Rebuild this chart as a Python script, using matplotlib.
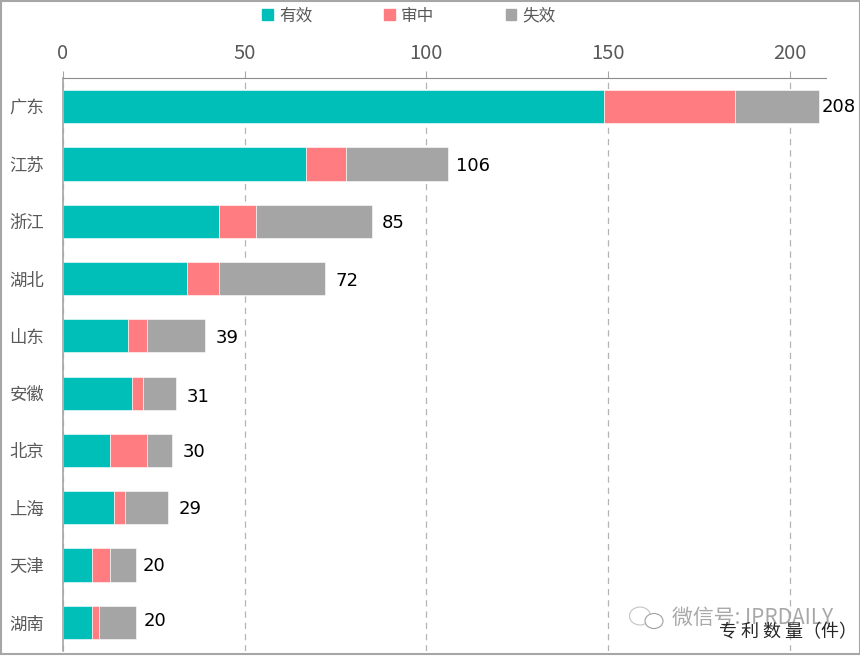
import matplotlib
matplotlib.use("Agg")
import matplotlib.pyplot as plt
from matplotlib.patches import Ellipse, Patch, Rectangle

plt.rcParams['font.family'] = ['Noto Sans CJK SC', 'DejaVu Sans']

# Data
provinces = ["广东", "江苏", "浙江", "湖北", "山东", "安徽", "北京", "上海", "天津", "湖南"]
valid = [149, 67, 43, 34, 18, 19, 13, 14, 8, 8]
pending = [36, 11, 10, 9, 5, 3, 10, 3, 5, 2]
lapsed = [23, 28, 32, 29, 16, 9, 7, 12, 7, 10]
totals = [208, 106, 85, 72, 39, 31, 30, 29, 20, 20]
x_ticks = [0, 50, 100, 150, 200]
series_names = ["有效", "审中", "失效"]

# label shift from the bar end, in points (x, y)
label_nudge = [(2, 0), (5.5, -1.5), (7, -1), (8, -1.5), (8, -1.5), (8, -2.5), (8, -1), (7.5, -1), (5, -1), (5.5, 1)]

TEAL = "#00BFB9"
PINK = "#FF7C80"
GREY = "#A5A5A5"
TEXT = "#595959"
W, H = 860, 656

fig = plt.figure(figsize=(W / 100, H / 100), dpi=100)

# pixel coordinates overlay for the frame and the watermark
bg = fig.add_axes([0, 0, 1, 1], zorder=3)
bg.set_xlim(0, W)
bg.set_ylim(H, 0)
bg.axis("off")
bg.patch.set_alpha(0)
bg.add_patch(Rectangle((0.5, 0.5), W - 1, H - 2.5, fill=False, edgecolor="#a6a6a6", lw=1.5))
bg.add_patch(Ellipse((640, 616), 21, 18, fill=False, edgecolor="#c4c4c4", lw=0.8))
bg.add_patch(Ellipse((654, 621), 18, 15, facecolor="white", edgecolor="#a0a0a0", lw=0.8))
bg.text(672, 618, "微信号: IPRDAILY", fontsize=15, color="#a8a8a8", va="center", ha="left")
bg.text(719, 632, "专 利 数 量（件）", fontsize=13, color="#262626", va="center", ha="left")

ax = fig.add_axes([63 / W, 1 - 651 / H, (826 - 63) / W, (651 - 78) / H])

y = list(range(len(provinces)))
left2 = [a for a in valid]
left3 = [a + b for a, b in zip(valid, pending)]
ax.barh(y, valid, height=0.58, color=TEAL, edgecolor="white", linewidth=0.4, zorder=2)
ax.barh(y, pending, left=left2, height=0.58, color=PINK, edgecolor="white", linewidth=0.4, zorder=2)
ax.barh(y, lapsed, left=left3, height=0.58, color=GREY, edgecolor="white", linewidth=0.4, zorder=2)

ax.set_xlim(0, 210)
ax.set_ylim(len(provinces) - 0.5, -0.5)
ax.xaxis.tick_top()
ax.set_xticks(x_ticks)
ax.set_yticks(y, provinces)
ax.tick_params(axis="x", length=5, width=0.8, color="#a6a6a6", labelcolor=TEXT, labelsize=14.5, pad=5)
ax.tick_params(axis="y", length=0, labelcolor=TEXT, labelsize=12.5, pad=13.5)
ax.grid(axis="x", color="#b4b4b4", linestyle=(0, (5, 4)), linewidth=0.9, zorder=0)
ax.set_axisbelow(True)

for side in ["right", "bottom"]:
    ax.spines[side].set_visible(False)
ax.spines["top"].set_color("#8c8c8c")
ax.spines["left"].set_color("#a6a6a6")
ax.spines["left"].set_linewidth(1.2)

for i, total in enumerate(totals):
    ax.annotate(str(total), (total, i), xytext=label_nudge[i], textcoords="offset points",
                fontsize=13, color="black", va="center", ha="left", family="DejaVu Sans",
                annotation_clip=False, zorder=5)

handles = [Patch(color=TEAL), Patch(color=PINK), Patch(color=GREY)]
fig.legend(handles, series_names, loc="center", bbox_to_anchor=(409 / W, 1 - 16 / H), ncols=3,
           frameon=False, fontsize=12, labelcolor=TEXT, handlelength=0.65, handleheight=0.65,
           handletextpad=0.35, columnspacing=4.3)

fig.savefig("out.png", dpi=100)
